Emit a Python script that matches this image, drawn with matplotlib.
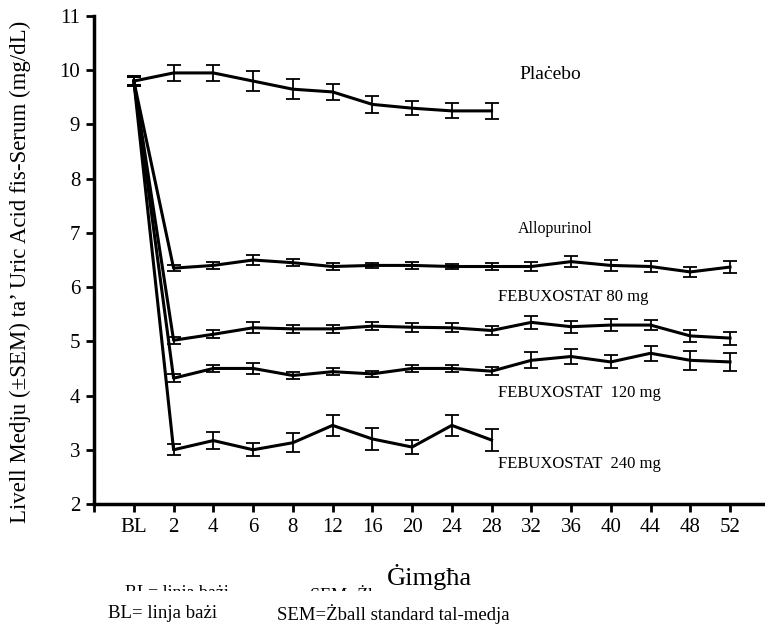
# Uric acid over time: mean (±SEM) by treatment group
import numpy as np
import matplotlib.pyplot as plt
from matplotlib.transforms import Bbox

plt.rcParams['font.family'] = ['Liberation Serif', 'DejaVu Serif']

weeks = ['BL', '2', '4', '6', '8', '12', '16', '20', '24', '28',
         '32', '36', '40', '44', '48', '52']

placebo = [9.8, 9.95, 9.95, 9.8, 9.65, 9.6, 9.37, 9.3, 9.25, 9.25]
placebo_sem = [0.1, 0.15, 0.15, 0.18, 0.18, 0.15, 0.15, 0.13, 0.14, 0.15]

allopurinol = [9.8, 6.35, 6.4, 6.5, 6.45, 6.38, 6.4, 6.4, 6.38, 6.38,
               6.38, 6.47, 6.4, 6.38, 6.28, 6.37]
allopurinol_sem = [0.08, 0.06, 0.06, 0.1, 0.06, 0.06, 0.05, 0.06, 0.05, 0.07,
                   0.08, 0.1, 0.1, 0.1, 0.1, 0.11]

febux_80 = [9.8, 5.02, 5.13, 5.25, 5.23, 5.23, 5.28, 5.26, 5.25, 5.2,
            5.35, 5.27, 5.3, 5.3, 5.1, 5.06]
febux_80_sem = [0.08, 0.06, 0.07, 0.1, 0.08, 0.07, 0.08, 0.08, 0.08, 0.08,
                0.12, 0.11, 0.11, 0.1, 0.11, 0.12]

febux_120 = [9.8, 4.32, 4.5, 4.5, 4.37, 4.44, 4.4, 4.5, 4.5, 4.45,
             4.65, 4.72, 4.62, 4.78, 4.65, 4.62]
febux_120_sem = [0.08, 0.07, 0.07, 0.1, 0.07, 0.07, 0.05, 0.07, 0.07, 0.07,
                 0.15, 0.14, 0.12, 0.14, 0.17, 0.16]

febux_240 = [9.8, 3.0, 3.17, 3.0, 3.13, 3.45, 3.2, 3.05, 3.45, 3.18]
febux_240_sem = [0.1, 0.1, 0.15, 0.12, 0.18, 0.2, 0.2, 0.13, 0.2, 0.2]

series = [
    (placebo, placebo_sem, 'Plaċebo', (9.7, 9.93), 14),
    (allopurinol, allopurinol_sem, 'Allopurinol', (9.65, 7.07), 11.5),
    (febux_80, febux_80_sem, 'FEBUXOSTAT 80 mg', (9.15, 5.82), 12),
    (febux_120, febux_120_sem, 'FEBUXOSTAT  120 mg', (9.15, 4.04), 12),
    (febux_240, febux_240_sem, 'FEBUXOSTAT  240 mg', (9.15, 2.73), 12),
]

fig = plt.figure(figsize=(7.65, 6.3), dpi=100)
ax = fig.add_axes([0.123, 0.2, 0.877, 0.7746])

for vals, sem, name, pos, fs in series:
    x = np.arange(len(vals))
    ax.errorbar(x, vals, yerr=sem, color='black', linewidth=2.2,
                elinewidth=1.3, capsize=5, capthick=1.3)
    ax.text(pos[0], pos[1], name, fontsize=fs, va='center', ha='left')

ax.set_xlim(-1, 15.88)
ax.set_ylim(2, 11)
ax.set_xticks(np.arange(-1, len(weeks)))
ax.set_xticklabels([''] + weeks)
ax.set_yticks(range(2, 12))

for s in ['top', 'right']:
    ax.spines[s].set_visible(False)
for s in ['left', 'bottom']:
    ax.spines[s].set_linewidth(2.5)
ax.tick_params(axis='both', labelsize=15, width=2, length=6, pad=4)

ax.set_ylabel('Livell Medju (±SEM) ta’ Uric Acid fis-Serum (mg/dL)', fontsize=16.5)
ax.yaxis.set_label_coords(-0.094, 0.475)
ax.set_xlabel('Ġimgħa', fontsize=19)
ax.xaxis.set_label_coords(0.5, -0.122)

# leftover footnote line, cut off so only the tops of the letters show
clip = Bbox([[0, 630 - 591], [380, 630 - 585]])
for xp, txt in [(125, 'BL= linja bażi'), (310, 'SEM=Żball standard tal-medja')]:
    t = fig.text(xp / 765, 1 - 585 / 630, txt, fontsize=13, va='top')
    t.set_clip_box(clip)
    t.set_clip_on(True)

fig.text(108 / 765, 1 - 614 / 630, 'BL= linja bażi', fontsize=13.5, va='center')
fig.text(277 / 765, 1 - 614 / 630, 'SEM=Żball standard tal-medja', fontsize=13.5,
         va='center')

fig.savefig('out.png', dpi=100)
